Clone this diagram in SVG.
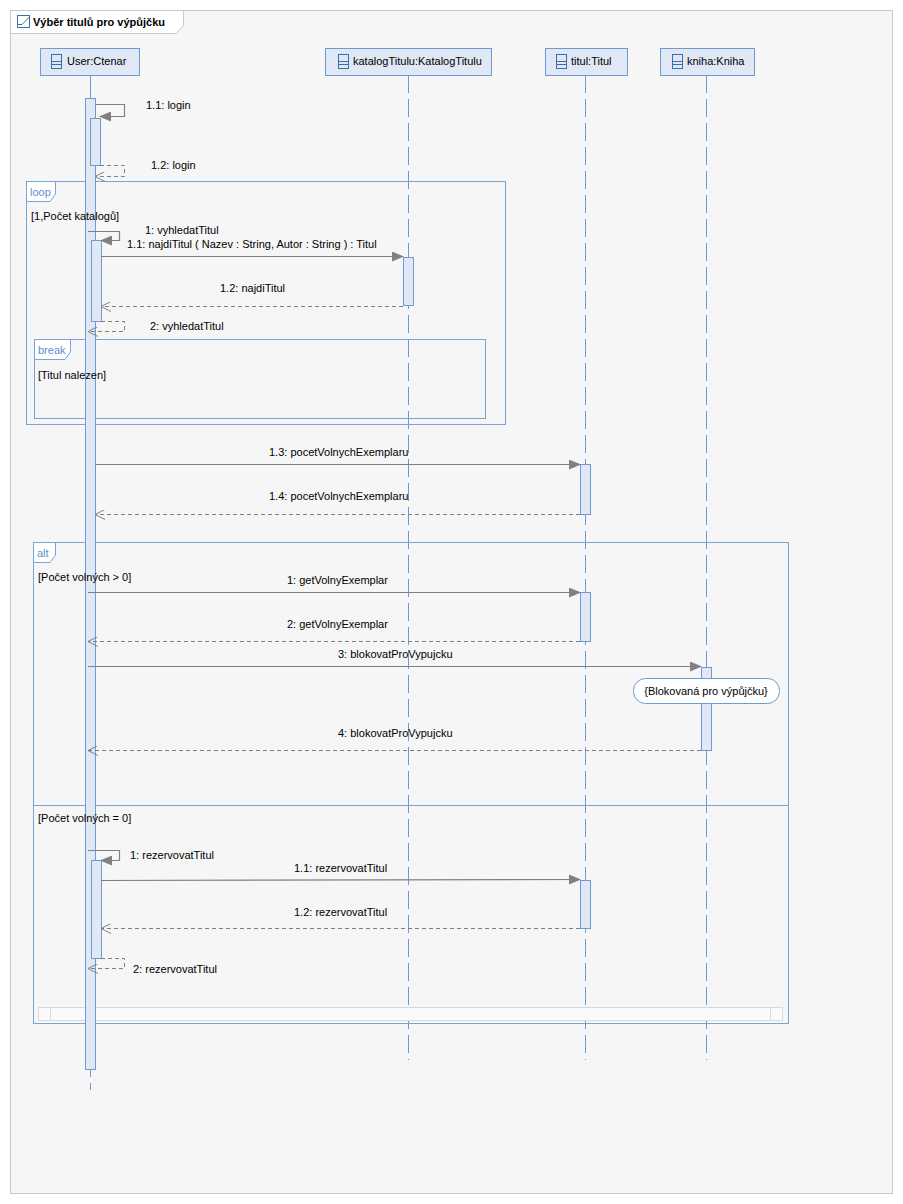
<svg xmlns="http://www.w3.org/2000/svg" width="903" height="1204" viewBox="0 0 903 1204">
<style>
text{font-family:"Liberation Sans",Arial,sans-serif;font-size:11px;fill:#000}
.fr{fill:none;stroke:#7aa3d6;stroke-width:1}
.act{fill:#dfe8f4;stroke:#6f9bd4}
.hd{fill:#dfe8f4;stroke:#6f9bd4}
.ll{stroke:#6f9bd4;stroke-dasharray:18,6}
.m{fill:none;stroke:#808080;stroke-width:1.2}
.r{fill:none;stroke:#808080;stroke-dasharray:4,3}
.tag{fill:#fff;stroke:#7aa3d6}
.ft{fill:#5b8fd0}
</style>
<defs>
<marker id="a" markerWidth="12" markerHeight="10" refX="11" refY="5" orient="auto" markerUnits="userSpaceOnUse"><path d="M0,0L12,5L0,10z" fill="#808080"/></marker>
<marker id="o" markerWidth="12" markerHeight="10" refX="11" refY="5" orient="auto" markerUnits="userSpaceOnUse"><path d="M1,0L11,5L1,10" fill="none" stroke="#808080"/></marker>
</defs>
<rect x="0" y="0" width="903" height="1204" fill="#fff"/>
<rect x="10.5" y="10.5" width="882" height="1183" fill="#f6f6f6" stroke="#c8c8c8"/>
<path d="M10.5,10.5H183.5V26L176,33.5H10.5z" fill="#fff" stroke="#c8c8c8"/>
<rect x="17.5" y="15.5" width="12" height="12" fill="#fff" stroke="#3b6fb0"/>
<path d="M17.5,24.5H22L29.5,17" fill="none" stroke="#3b6fb0"/>
<text x="33" y="26" style="font-weight:bold">Výběr titulů pro výpůjčku</text>

<g id="lifelines">
<line x1="408.5" y1="75" x2="408.5" y2="1060" class="ll"/>
<line x1="585.5" y1="75" x2="585.5" y2="1060" class="ll"/>
<line x1="706.5" y1="75" x2="706.5" y2="1060" class="ll"/>
<line x1="90.5" y1="75" x2="90.5" y2="98" stroke="#6f9bd4"/>
<line x1="90.5" y1="1069" x2="90.5" y2="1090" stroke="#6f9bd4" stroke-dasharray="8,6"/>
</g>

<g id="user"><rect x="40.5" y="48.5" width="99" height="27" class="hd"/>
<rect x="51.5" y="54.5" width="10" height="14" fill="#dfe8f4" stroke="#3b6fb0"/><path d="M51.5,61.5h10M51.5,64.5h10" stroke="#3b6fb0"/>
<text x="67" y="65">User:Ctenar</text></g>
<g id="katalog"><rect x="325.5" y="48.5" width="166" height="27" class="hd"/>
<rect x="338.5" y="54.5" width="10" height="14" fill="#dfe8f4" stroke="#3b6fb0"/><path d="M338.5,61.5h10M338.5,64.5h10" stroke="#3b6fb0"/>
<text x="353" y="65">katalogTitulu:KatalogTitulu</text></g>
<g id="titul"><rect x="545.5" y="48.5" width="82" height="27" class="hd"/>
<rect x="556.5" y="54.5" width="10" height="14" fill="#dfe8f4" stroke="#3b6fb0"/><path d="M556.5,61.5h10M556.5,64.5h10" stroke="#3b6fb0"/>
<text x="571" y="65">titul:Titul</text></g>
<g id="kniha"><rect x="660.5" y="48.5" width="94" height="27" class="hd"/>
<rect x="672.5" y="54.5" width="10" height="14" fill="#dfe8f4" stroke="#3b6fb0"/><path d="M672.5,61.5h10M672.5,64.5h10" stroke="#3b6fb0"/>
<text x="687" y="65">kniha:Kniha</text></g>

<g id="frames">
<rect x="26.5" y="181.5" width="479" height="243" class="fr"/>
<path d="M26.5,181.5H55.5V194L50,201.5H26.5z" class="tag"/><text x="30" y="196" class="ft">loop</text>
<rect x="34.5" y="339.5" width="451" height="79" class="fr"/>
<path d="M34.5,339.5H70.5V352L65,359.5H34.5z" class="tag"/><text x="38" y="354" class="ft">break</text>
<rect x="33.5" y="542.5" width="755" height="481" class="fr"/>
<path d="M33.5,542.5H55.5V555L50,562.5H33.5z" class="tag"/><text x="37" y="557" class="ft">alt</text>
<line x1="33.5" y1="805.5" x2="788.5" y2="805.5" stroke="#7aa3d6"/>
<rect x="38.5" y="1007.5" width="744" height="13" fill="#fafafa" stroke="#d8d8d8"/>
<rect x="38.5" y="1007.5" width="12" height="13" fill="#fafafa" stroke="#d8d8d8"/>
<rect x="770.5" y="1007.5" width="12" height="13" fill="#fafafa" stroke="#d8d8d8"/>
</g>

<g id="activations">
<rect x="85.5" y="98.5" width="10" height="971" class="act"/>
<rect x="90.5" y="118.5" width="10" height="47" class="act"/>
<rect x="91.5" y="240.5" width="10" height="81" class="act"/>
<rect x="403.5" y="257.5" width="10" height="48" class="act"/>
<rect x="580.5" y="464.5" width="10" height="50" class="act"/>
<rect x="580.5" y="592.5" width="10" height="49" class="act"/>
<rect x="701.5" y="667.5" width="10" height="83" class="act"/>
<rect x="91.5" y="860.5" width="10" height="98" class="act"/>
<rect x="580.5" y="880.5" width="10" height="48" class="act"/>
</g>

<g id="guards">
<text x="31" y="220">[1,Počet katalogů]</text>
<text x="38" y="379">[Titul nalezen]</text>
<text x="38" y="581">[Počet volných &gt; 0]</text>
<text x="38" y="822">[Počet volných = 0]</text>
</g>

<g id="connectors">
<path d="M95,104.5H124.5V116.5H100" class="m" marker-end="url(#a)"/>
<path d="M100,165.5H124.5V176.5H95" class="r" marker-end="url(#o)"/>
<path d="M88,231.5H119.5V240.5H101" class="m" marker-end="url(#a)"/>
<line x1="101" y1="256.5" x2="403" y2="256.5" class="m" marker-end="url(#a)"/>
<line x1="403" y1="306.5" x2="101" y2="306.5" class="r" marker-end="url(#o)"/>
<path d="M101,321.5H124.5V331.5H88" class="r" marker-end="url(#o)"/>
<line x1="95" y1="464.5" x2="580" y2="464.5" class="m" marker-end="url(#a)"/>
<line x1="580" y1="514.5" x2="95" y2="514.5" class="r" marker-end="url(#o)"/>
<line x1="88" y1="592.5" x2="580" y2="592.5" class="m" marker-end="url(#a)"/>
<line x1="580" y1="641.5" x2="88" y2="641.5" class="r" marker-end="url(#o)"/>
<line x1="88" y1="666.5" x2="701" y2="666.5" class="m" marker-end="url(#a)"/>
<line x1="701" y1="750.5" x2="88" y2="750.5" class="r" marker-end="url(#o)"/>
<path d="M88,850.5H119.5V860.5H101" class="m" marker-end="url(#a)"/>
<line x1="101" y1="880.5" x2="580" y2="879.5" class="m" marker-end="url(#a)"/>
<line x1="580" y1="928.5" x2="101" y2="928.5" class="r" marker-end="url(#o)"/>
<path d="M101,958.5H124.5V968.5H88" class="r" marker-end="url(#o)"/>
</g>

<g id="labels">
<text x="146" y="109">1.1: login</text>
<text x="151" y="169">1.2: login</text>
<text x="145" y="234">1: vyhledatTitul</text>
<text x="127" y="248">1.1: najdiTitul ( Nazev : String, Autor : String ) : Titul</text>
<text x="220" y="292">1.2: najdiTitul</text>
<text x="150" y="330">2: vyhledatTitul</text>
<text x="269" y="456">1.3: pocetVolnychExemplaru</text>
<text x="269" y="500">1.4: pocetVolnychExemplaru</text>
<text x="287" y="584">1: getVolnyExemplar</text>
<text x="287" y="628">2: getVolnyExemplar</text>
<text x="338" y="658">3: blokovatProVypujcku</text>
<text x="338" y="737">4: blokovatProVypujcku</text>
<text x="130" y="859">1: rezervovatTitul</text>
<text x="294" y="872">1.1: rezervovatTitul</text>
<text x="294" y="916">1.2: rezervovatTitul</text>
<text x="133" y="973">2: rezervovatTitul</text>
</g>

<g id="note"><rect x="633.5" y="678.5" width="146" height="25" rx="12" fill="#fff" stroke="#6f9bd4"/>
<text x="706" y="695" text-anchor="middle">{Blokovaná pro výpůjčku}</text></g>
</svg>
